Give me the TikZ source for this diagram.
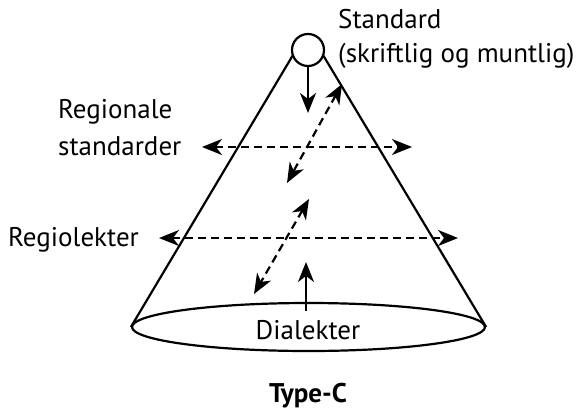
\documentclass[tikz,border=0pt]{standalone}
\usepackage{fontspec}
\setmainfont{PT Sans}
\usetikzlibrary{arrows.meta,shapes.geometric}
\begin{document}
\begin{tikzpicture}[x=1pt,y=-1pt,
  lw/.style={line width=2.2pt},
  tip/.style={-{Stealth[length=20pt,width=16pt,inset=6pt]}},
  dtip/.style={{Stealth[length=20pt,width=16pt,inset=6pt]}-{Stealth[length=20pt,width=16pt,inset=6pt]}},
  dsh/.style={dash pattern=on 8pt off 5pt},
  lbl/.style={font=\fontsize{27}{30}\selectfont, inner sep=0pt}]
\useasboundingbox (0,0) rectangle (580,415);
\node[lw, draw, circle, minimum size=32pt, inner sep=0pt] (top) at (308,50) {};
\node[lw, draw, ellipse, minimum width=353pt, minimum height=48pt, inner sep=0pt] (base) at (308.5,327) {};
\node[lbl, anchor=base] (dia) at (308,339) {Dialekter};
\coordinate (tl) at (293,55);
\coordinate (tr) at (323,55);
\draw[lw] (tl) -- (base.west);
\draw[lw] (tr) -- (base.east);
% solid arrows
\coordinate (d1) at (308,113);
\draw[lw, tip] (top.south) -- (d1);
\coordinate (u0) at (306,311);
\coordinate (u1) at (306,262);
\draw[lw, tip] (u0) -- (u1);
% dashed horizontals
\coordinate (h1l) at (202,147);
\coordinate (h1r) at (412,147);
\draw[lw, dsh, dtip] (h1l) -- (h1r);
\coordinate (h2l) at (159,238);
\coordinate (h2r) at (458,238);
\draw[lw, dsh, dtip] (h2l) -- (h2r);
% dashed diagonals
\coordinate (a1) at (342,84);
\coordinate (a2) at (287,183);
\draw[lw, dsh, dtip] (a1) -- (a2);
\coordinate (b1) at (309,199);
\coordinate (b2) at (254,294);
\draw[lw, dsh, dtip] (b1) -- (b2);
% labels
\node[lbl, anchor=base west] (std) at (338,28) {Standard};
\node[lbl, anchor=base west] (stdb) at (338,62) {(skriftlig og muntlig)};
\node[lbl, anchor=base west] (reg) at (58,118) {Regionale};
\node[lbl, anchor=base west] (regs) at (58,155) {standarder};
\node[lbl, anchor=base west] (rl) at (8,246) {Regiolekter};
\node[lbl, font=\fontsize{27}{30}\selectfont\bfseries, anchor=base] (type) at (308,402) {Type-C};
\end{tikzpicture}
\end{document}
